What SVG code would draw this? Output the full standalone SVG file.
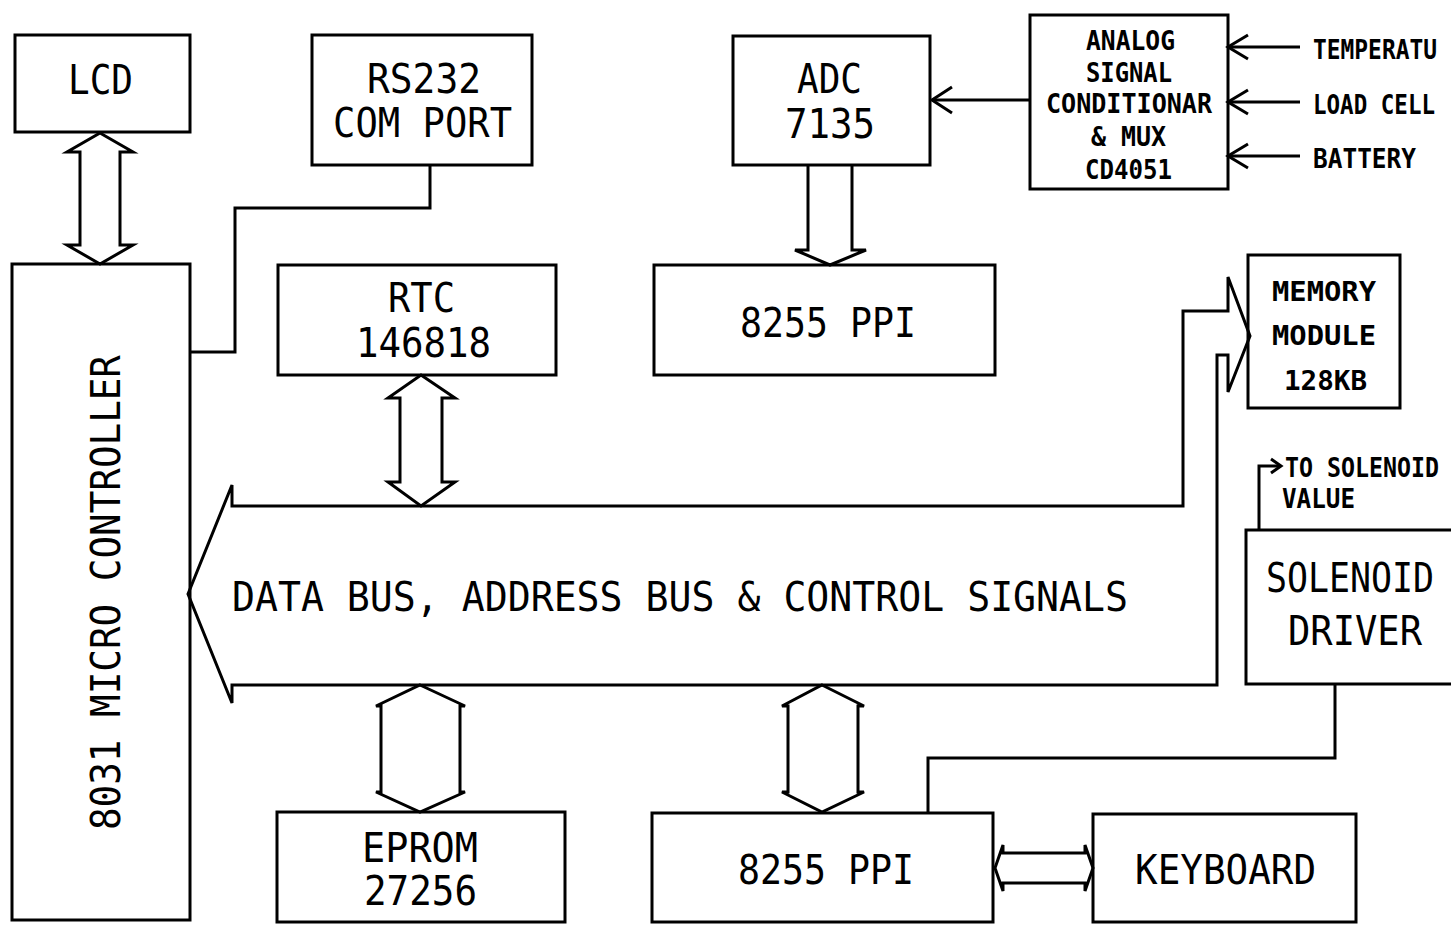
<svg xmlns="http://www.w3.org/2000/svg" width="1451" height="925" viewBox="0 0 1451 925">
<style>
.box{fill:none;stroke:#000;stroke-width:3}
.ln{fill:none;stroke:#000;stroke-width:3;stroke-linejoin:miter}
.t{font-family:"DejaVu Sans Mono","Liberation Mono",monospace;font-size:40px;fill:#000}
.s{font-family:"DejaVu Sans Mono","Liberation Mono",monospace;font-size:27px;font-weight:bold;fill:#000}
</style>
<rect width="1451" height="925" fill="#fff"/>

<g id="lcd"><rect class="box" x="15" y="35" width="175" height="97"/>
<text class="t" x="68" y="94" textLength="65" lengthAdjust="spacingAndGlyphs">LCD</text></g>

<g id="mc"><rect class="box" x="12" y="264" width="178" height="656"/>
<text class="t" transform="translate(120,830) rotate(-90)" x="0" y="0" textLength="475" lengthAdjust="spacingAndGlyphs">8031 MICRO CONTROLLER</text></g>

<g id="rs232"><rect class="box" x="312" y="35" width="220" height="130"/>
<text class="t" x="367" y="93" textLength="114" lengthAdjust="spacingAndGlyphs">RS232</text>
<text class="t" x="333" y="137" textLength="179" lengthAdjust="spacingAndGlyphs">COM PORT</text></g>

<g id="rtc"><rect class="box" x="278" y="265" width="278" height="110"/>
<text class="t" x="388" y="312" textLength="67" lengthAdjust="spacingAndGlyphs">RTC</text>
<text class="t" x="356" y="357" textLength="135" lengthAdjust="spacingAndGlyphs">146818</text></g>

<g id="adc"><rect class="box" x="733" y="36" width="197" height="129"/>
<text class="t" x="797" y="93" textLength="65" lengthAdjust="spacingAndGlyphs">ADC</text>
<text class="t" x="785" y="138" textLength="90" lengthAdjust="spacingAndGlyphs">7135</text></g>

<g id="analog"><rect class="box" x="1030" y="15" width="198" height="174"/>
<text class="s" x="1086" y="50" textLength="89" lengthAdjust="spacingAndGlyphs">ANALOG</text>
<text class="s" x="1086" y="82" textLength="86" lengthAdjust="spacingAndGlyphs">SIGNAL</text>
<text class="s" x="1046" y="113" textLength="166" lengthAdjust="spacingAndGlyphs">CONDITIONAR</text>
<text class="s" x="1091" y="146" textLength="75" lengthAdjust="spacingAndGlyphs">&amp; MUX</text>
<text class="s" x="1085" y="179" textLength="87" lengthAdjust="spacingAndGlyphs">CD4051</text></g>

<g id="ppi1"><rect class="box" x="654" y="265" width="341" height="110"/>
<text class="t" x="740" y="337" textLength="176" lengthAdjust="spacingAndGlyphs">8255 PPI</text></g>

<g id="memory"><rect class="box" x="1248" y="255" width="152" height="153"/>
<text class="s" x="1272" y="301" textLength="104" lengthAdjust="spacingAndGlyphs">MEMORY</text>
<text class="s" x="1272" y="345" textLength="104" lengthAdjust="spacingAndGlyphs">MODULE</text>
<text class="s" x="1284" y="390" textLength="83" lengthAdjust="spacingAndGlyphs">128KB</text></g>

<g id="solenoid"><rect class="box" x="1246" y="530" width="220" height="154"/>
<text class="t" x="1266" y="592" textLength="168" lengthAdjust="spacingAndGlyphs">SOLENOID</text>
<text class="t" x="1288" y="645" textLength="134" lengthAdjust="spacingAndGlyphs">DRIVER</text></g>

<g id="eprom"><rect class="box" x="277" y="812" width="288" height="110"/>
<text class="t" x="362" y="862" textLength="116" lengthAdjust="spacingAndGlyphs">EPROM</text>
<text class="t" x="364" y="905" textLength="113" lengthAdjust="spacingAndGlyphs">27256</text></g>

<g id="ppi2"><rect class="box" x="652" y="813" width="341" height="109"/>
<text class="t" x="738" y="884" textLength="176" lengthAdjust="spacingAndGlyphs">8255 PPI</text></g>

<g id="keyboard"><rect class="box" x="1093" y="814" width="263" height="108"/>
<text class="t" x="1135" y="884" textLength="181" lengthAdjust="spacingAndGlyphs">KEYBOARD</text></g>

<g id="bus">
<polygon class="ln" points="188,594 232,485 232,506 1183,506 1183,311 1228,311 1228,277 1250,336 1228,392 1228,355 1217,355 1217,685 232,685 232,703"/>
<text class="t" x="232" y="611" textLength="896" lengthAdjust="spacingAndGlyphs">DATA BUS, ADDRESS BUS &amp; CONTROL SIGNALS</text>
</g>

<g id="labels">
<text class="s" x="1313" y="59" textLength="124" lengthAdjust="spacingAndGlyphs">TEMPERATU</text>
<text class="s" x="1313" y="114" textLength="122" lengthAdjust="spacingAndGlyphs">LOAD CELL</text>
<text class="s" x="1313" y="168" textLength="103" lengthAdjust="spacingAndGlyphs">BATTERY</text>
<text class="s" x="1285" y="477" textLength="154" lengthAdjust="spacingAndGlyphs">TO SOLENOID</text>
<text class="s" x="1282" y="508" textLength="73" lengthAdjust="spacingAndGlyphs">VALUE</text>
</g>

<g id="connectors">
<polygon class="ln" points="100,133 133,152 120,152 120,245 133,245 100,264 67,245 80,245 80,152 67,152"/>
<polygon class="ln" points="421,375 455,398 442,398 442,482 455,482 421,506 388,482 400,482 400,398 388,398"/>
<polygon class="ln" points="420,685 465,706 460,706 460,792 465,792 420,812 376,792 381,792 381,706 376,706"/>
<polygon class="ln" points="822,685 864,706 858,706 858,792 864,792 822,812 782,792 788,792 788,706 782,706"/>
<polyline class="ln" points="808,165 808,250 795,250 830,265 866,250 852,250 852,165"/>
<polygon class="ln" points="995,868 1003,845 1003,853 1085,853 1085,845 1093,868 1085,891 1085,883 1003,883 1003,891"/>
<polyline class="ln" points="430,165 430,208 235,208 235,352 190,352"/>
<line class="ln" x1="1030" y1="100" x2="932" y2="100"/>
<polyline class="ln" points="952,87 932,100 952,113"/>
<line class="ln" x1="1300" y1="47" x2="1228" y2="47"/>
<polyline class="ln" points="1248,35 1228,47 1248,59"/>
<line class="ln" x1="1300" y1="102" x2="1228" y2="102"/>
<polyline class="ln" points="1248,90 1228,102 1248,114"/>
<line class="ln" x1="1300" y1="156" x2="1228" y2="156"/>
<polyline class="ln" points="1248,144 1228,156 1248,168"/>
<polyline class="ln" points="1259,530 1259,466 1280,466"/>
<polyline class="ln" points="1271,459 1281,466 1271,473"/>
<polyline class="ln" points="1335,684 1335,758 928,758 928,813"/>
</g>
</svg>
